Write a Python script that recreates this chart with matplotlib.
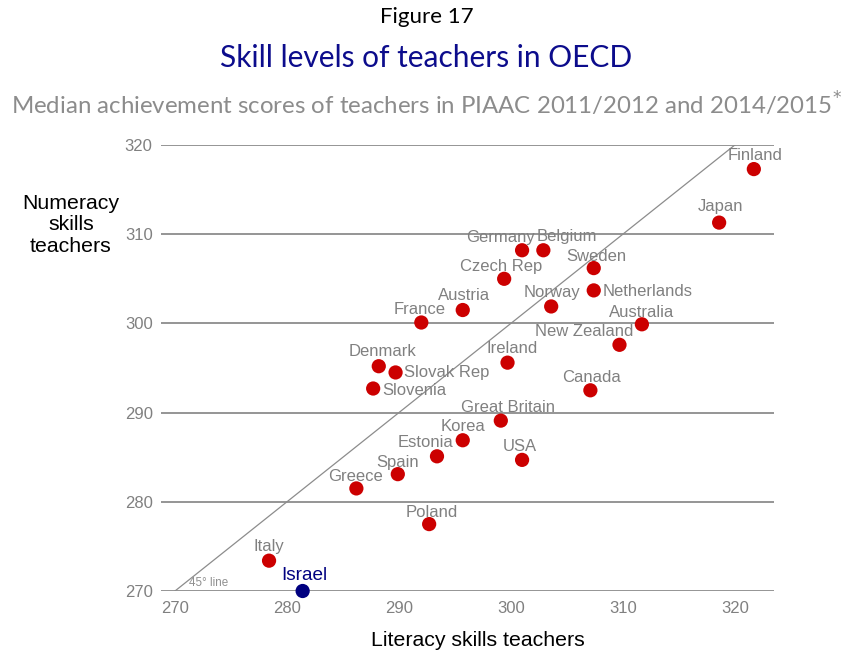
import matplotlib
matplotlib.use("Agg")
import matplotlib.pyplot as plt

countries = ["Finland", "Japan", "Germany", "Belgium", "Czech Rep", "Sweden", "Netherlands",
             "Norway", "Australia", "New Zealand", "Ireland", "Canada", "Austria", "France",
             "Denmark", "Slovak Rep", "Slovenia", "Great Britain", "Korea", "Estonia", "Spain",
             "Greece", "Poland", "Italy", "USA", "Israel"]
literacy = [321.7, 318.6, 301.0, 302.9, 299.4, 307.4, 307.4, 303.6, 311.7, 309.7, 299.7, 307.1,
            295.7, 292.0, 288.2, 289.7, 287.7, 299.1, 295.7, 293.4, 289.9, 286.2, 292.7, 278.4,
            301.0, 281.4]
numeracy = [317.3, 311.3, 308.2, 308.2, 305.0, 306.2, 303.7, 301.9, 299.9, 297.6, 295.6, 292.5,
            301.5, 300.1, 295.2, 294.5, 292.7, 289.1, 286.9, 285.1, 283.1, 281.5, 277.5, 273.4,
            284.7, 270.0]
xticks = [270, 280, 290, 300, 310, 320]
yticks = [270, 280, 290, 300, 310, 320]

# label offsets in pixels (dx, dy) and alignment
offsets = {
    "Finland": (1, 14, "center"), "Japan": (1, 16, "center"), "Germany": (-22, 13, "center"),
    "Belgium": (24, 14, "center"), "Czech Rep": (-3, 12, "center"), "Sweden": (3, 12, "center"),
    "Netherlands": (9, -1, "left"), "Norway": (1, 14, "center"), "Australia": (0, 12, "center"),
    "New Zealand": (-35, 13, "center"), "Ireland": (5, 14, "center"), "Canada": (1, 13, "center"),
    "Austria": (1, 15, "center"), "France": (-2, 13, "center"), "Denmark": (4, 15, "center"),
    "Slovak Rep": (8, 0, "left"), "Slovenia": (9, -2, "left"), "Great Britain": (7, 13, "center"),
    "Korea": (0, 14, "center"), "Estonia": (-11, 14, "center"), "Spain": (0, 12, "center"),
    "Greece": (-1, 12, "center"), "Poland": (3, 12, "center"), "Italy": (0, 14, "center"),
    "USA": (-2, 13, "center"), "Israel": (2, 15, "center"),
}

plt.rcParams['font.family'] = ['Liberation Sans', 'DejaVu Sans']

fig = plt.figure(figsize=(8.53, 6.55), dpi=100)
ax = fig.add_axes([161/853, 1-591/655, (774-161)/853, (591-145)/655])
ax.set_xlim(268.75, 323.5)
ax.set_ylim(270, 320)

for s in ax.spines.values():
    s.set_visible(False)
ax.set_yticks(yticks)
ax.set_xticks(xticks)
ax.tick_params(axis='both', length=0, labelsize=12, labelcolor='#808080')
ax.tick_params(axis='y', pad=6)
ax.tick_params(axis='x', pad=7)
ax.grid(axis='y', color='#8c8c8c', linewidth=1.3)
ax.set_axisbelow(True)

ax.plot([270, 320], [270, 320], color='#8c8c8c', linewidth=0.9, zorder=1)
ax.annotate("45° line", xy=(270, 270), xytext=(14, 2), textcoords='offset pixels',
            fontsize=8.4, color='#909090', ha='left', va='bottom')

colors = ['#000080' if c == "Israel" else '#cc0000' for c in countries]
ax.scatter(literacy, numeracy, s=105, c=colors, zorder=3, clip_on=False, linewidths=0)

for c, x, y in zip(countries, literacy, numeracy):
    dx, dy, ha = offsets[c]
    if c == "Israel":
        ax.annotate(c, xy=(x, y), xytext=(dx, dy), textcoords='offset pixels',
                    ha=ha, va='center', fontsize=13.7, color='#000080', zorder=4)
    else:
        ax.annotate(c, xy=(x, y), xytext=(dx, dy), textcoords='offset pixels',
                    ha=ha, va='center', fontsize=12, color='#808080', zorder=4)

fig.text(0.5, 1-17/655, "Figure 17", ha='center', va='center', fontsize=16,
         family=['Lato', 'DejaVu Sans'], color='black')
fig.text(0.5, 1-58/655, "Skill levels of teachers in OECD", ha='center', va='center',
         fontsize=21.5, family=['Lato', 'DejaVu Sans'], color='#0c0c8c')
fig.text(0.5, 1-104/655, "Median achievement scores of teachers in PIAAC 2011/2012 and 2014/2015$^{\\!*}$",
         ha='center', va='center', fontsize=17.3, family=['Lato', 'DejaVu Sans'], color='#8c8c8c')

fig.text(478/853, 1-641/655, "Literacy skills teachers", ha='center', va='center',
         fontsize=15.3, color='black')
fig.text(71/853, 1-225/655, "Numeracy\nskills\nteachers", ha='center', va='center',
         fontsize=15.3, color='black', linespacing=1.17)

fig.savefig("out.png", dpi=100)
